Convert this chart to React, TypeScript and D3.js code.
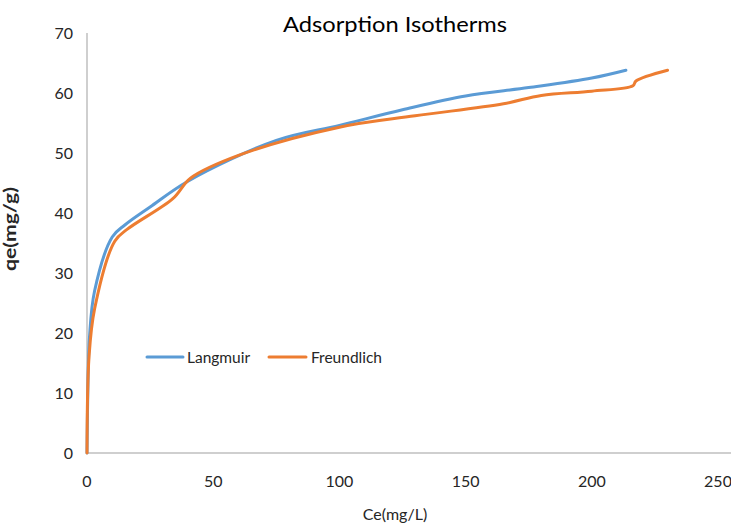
import React from "react";
import * as d3 from "d3";

const langmuirCe = [0, 0.4, 1, 3, 10, 15, 25, 40, 75, 100, 125, 150, 175, 200, 213.5];
const langmuirQe = [0, 12, 19.4, 27, 36, 38, 41, 45.3, 52.1, 54.6, 57.2, 59.5, 60.9, 62.5, 63.8];

const freundCe = [0, 0.8, 3, 11, 16, 34, 41, 60, 100, 130, 165, 180, 200, 216.3, 217.5, 230];
const freundQe = [0, 16, 24, 35.3, 37.3, 42.4, 45.8, 49.6, 54.3, 56.2, 58.2, 59.6, 60.3, 61.2, 62, 63.8];

const xTicks = [0, 50, 100, 150, 200, 250];
const yTicks = [0, 10, 20, 30, 40, 50, 60, 70];

const seriesNames = ["Langmuir", "Freundlich"];
const seriesColors = ["#5b9bd5", "#ed7d31"];

const W = 731;
const H = 524;
const FONT = "Lato, 'Open Sans', sans-serif";

export default function App() {
  const x = d3.scaleLinear().domain([0, 250]).range([87, 718]);
  const y = d3.scaleLinear().domain([0, 70]).range([453, 33]);

  const line = d3
    .line<[number, number]>()
    .x((d) => x(d[0]))
    .y((d) => y(d[1]))
    .curve(d3.curveCatmullRom.alpha(0.5));

  const series = [
    langmuirCe.map((c, i) => [c, langmuirQe[i]] as [number, number]),
    freundCe.map((c, i) => [c, freundQe[i]] as [number, number]),
  ];

  const legendItems = [
    { x1: 147, x2: 183, tx: 187 },
    { x1: 269, x2: 306, tx: 311 },
  ];

  return (
    <svg
      width={W}
      height={H}
      style={{ position: "absolute", left: 0, top: 0, background: "#fff" }}
      fontFamily={FONT}
    >
      <rect x={0} y={0} width={W} height={H} fill="#fff" />
      <text
        x={395}
        y={32}
        textAnchor="middle"
        fontSize={21}
        fill="#000"
        textLength={224}
        lengthAdjust="spacingAndGlyphs"
      >
        Adsorption Isotherms
      </text>

      {/* axes */}
      <line x1={x(0)} x2={x(0)} y1={y(70)} y2={y(0)} stroke="#bfbfbf" strokeWidth={1.5} />
      <line x1={x(0)} x2={W} y1={y(0)} y2={y(0)} stroke="#bfbfbf" strokeWidth={1.5} />

      {yTicks.map((t) => (
        <text key={t} x={73} y={y(t) + 6} textAnchor="end" fontSize={16} fill="#262626">
          {t}
        </text>
      ))}
      {xTicks.map((t) => (
        <text key={t} x={x(t)} y={487} textAnchor="middle" fontSize={16} fill="#262626">
          {t}
        </text>
      ))}

      <text
        transform={`translate(16,229) rotate(-90)`}
        textAnchor="middle"
        fontSize={17}
        fontWeight="bold"
        fill="#262626"
        textLength={84}
        lengthAdjust="spacingAndGlyphs"
      >
        qe(mg/g)
      </text>
      <text x={395} y={520} textAnchor="middle" fontSize={16} fill="#262626">
        Ce(mg/L)
      </text>

      {series.map((s, i) => (
        <path
          key={i}
          d={line(s) || ""}
          fill="none"
          stroke={seriesColors[i]}
          strokeWidth={3}
          strokeLinejoin="round"
          strokeLinecap="round"
        />
      ))}

      {legendItems.map((l, i) => (
        <g key={i}>
          <line x1={l.x1} x2={l.x2} y1={357} y2={357} stroke={seriesColors[i]} strokeWidth={3} strokeLinecap="round" />
          <text x={l.tx} y={362.5} fontSize={15.5} fill="#262626">
            {seriesNames[i]}
          </text>
        </g>
      ))}
    </svg>
  );
}
